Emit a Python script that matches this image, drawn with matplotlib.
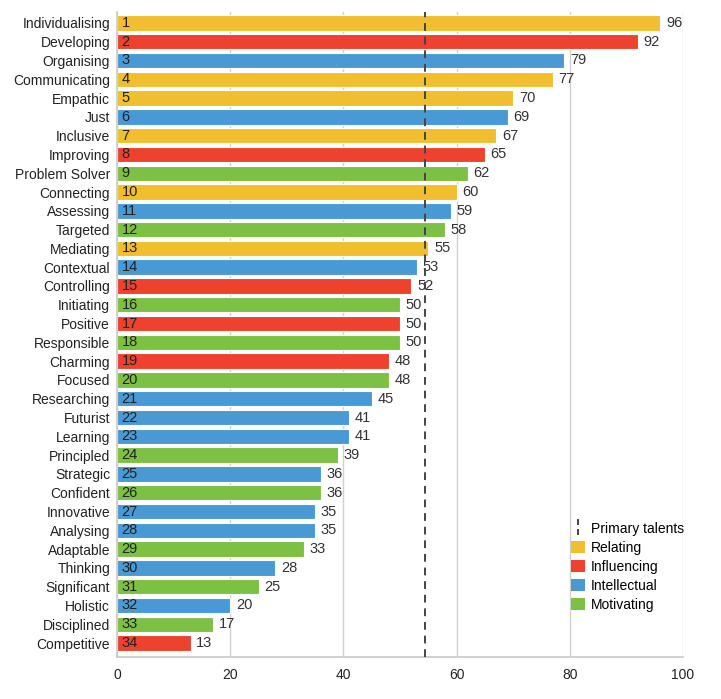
import matplotlib
matplotlib.use("Agg")
import matplotlib.pyplot as plt
from matplotlib.lines import Line2D
from matplotlib.patches import Patch
from matplotlib.path import Path
import numpy as np

plt.rcParams['font.family'] = ['Liberation Sans', 'DejaVu Sans']

talents = ["Individualising", "Developing", "Organising", "Communicating", "Empathic",
           "Just", "Inclusive", "Improving", "Problem Solver", "Connecting",
           "Assessing", "Targeted", "Mediating", "Contextual", "Controlling",
           "Initiating", "Positive", "Responsible", "Charming", "Focused",
           "Researching", "Futurist", "Learning", "Principled", "Strategic",
           "Confident", "Innovative", "Analysing", "Adaptable", "Thinking",
           "Significant", "Holistic", "Disciplined", "Competitive"]
scores = [96, 92, 79, 77, 70, 69, 67, 65, 62, 60, 59, 58, 55, 53, 52, 50, 50, 50,
          48, 48, 45, 41, 41, 39, 36, 36, 35, 35, 33, 28, 25, 20, 17, 13]
domains = ["R", "I", "T", "R", "R", "T", "R", "I", "M", "R", "T", "M", "R", "T", "I",
           "M", "I", "M", "I", "M", "T", "T", "T", "M", "T", "M", "T", "T", "M", "T",
           "M", "T", "M", "I"]
threshold = 54.5

domain_names = {"R": "Relating", "I": "Influencing", "T": "Intellectual", "M": "Motivating"}
domain_colors = {"R": "#F0BE2E", "I": "#EE422E", "T": "#4899D4", "M": "#7DC144"}

fig = plt.figure(figsize=(7.21, 6.99), dpi=100)
ax = fig.add_axes([0.1623, 0.060, 0.7850, 0.923])

y = np.arange(len(talents))
cols = [domain_colors[d] for d in domains]
ax.barh(y, scores, height=0.82, color=cols, edgecolor="white", linewidth=0.8, zorder=2)

for i, s in enumerate(scores):
    ax.text(0.8, i, str(i + 1), va="center", ha="left", fontsize=10.5, color="#222222", zorder=3)
    ax.text(s + 1.0, i, str(s), va="center", ha="left", fontsize=10.5, color="#333333", zorder=3)

ax.axvline(threshold, color="#444444", linestyle=(0, (4, 3)), linewidth=1.4, zorder=4)

ax.set_xlim(0, 100)
ax.set_ylim(33.745, -0.585)
ax.set_yticks(y)
ax.set_yticklabels(talents, fontsize=10, color="#222222")
ax.set_xticks([0, 20, 40, 60, 80, 100])
ax.tick_params(axis="both", length=0, labelsize=10, colors="#222222")
ax.tick_params(axis="x", pad=8)
ax.tick_params(axis="y", pad=5)
ax.grid(axis="x", color="#D0D0D0", linewidth=1, zorder=0)
for sp in ["top", "right"]:
    ax.spines[sp].set_visible(False)
for sp in ["left", "bottom"]:
    ax.spines[sp].set_color("#C8C8C8")
    ax.spines[sp].set_linewidth(1.2)

# short dashed vertical marker for the threshold legend entry
dash_marker = Path([(0, -1), (0, -0.25), (0, 0.25), (0, 1)],
                   [Path.MOVETO, Path.LINETO, Path.MOVETO, Path.LINETO])
handles = [Line2D([0], [0], color="#444444", linestyle="none", marker=dash_marker,
                  markersize=12, markeredgewidth=1.4)]
handles += [Patch(facecolor=domain_colors[k], edgecolor="none") for k in ["R", "I", "T", "M"]]
labels = ["Primary talents"] + [domain_names[k] for k in ["R", "I", "T", "M"]]
ax.legend(handles, labels, loc="upper left", bbox_to_anchor=(0.793, 0.218), frameon=False,
          fontsize=10, handlelength=1.0, handleheight=1.0, handletextpad=0.4,
          labelspacing=0.36, borderaxespad=0)

fig.savefig("out.png", dpi=100)
